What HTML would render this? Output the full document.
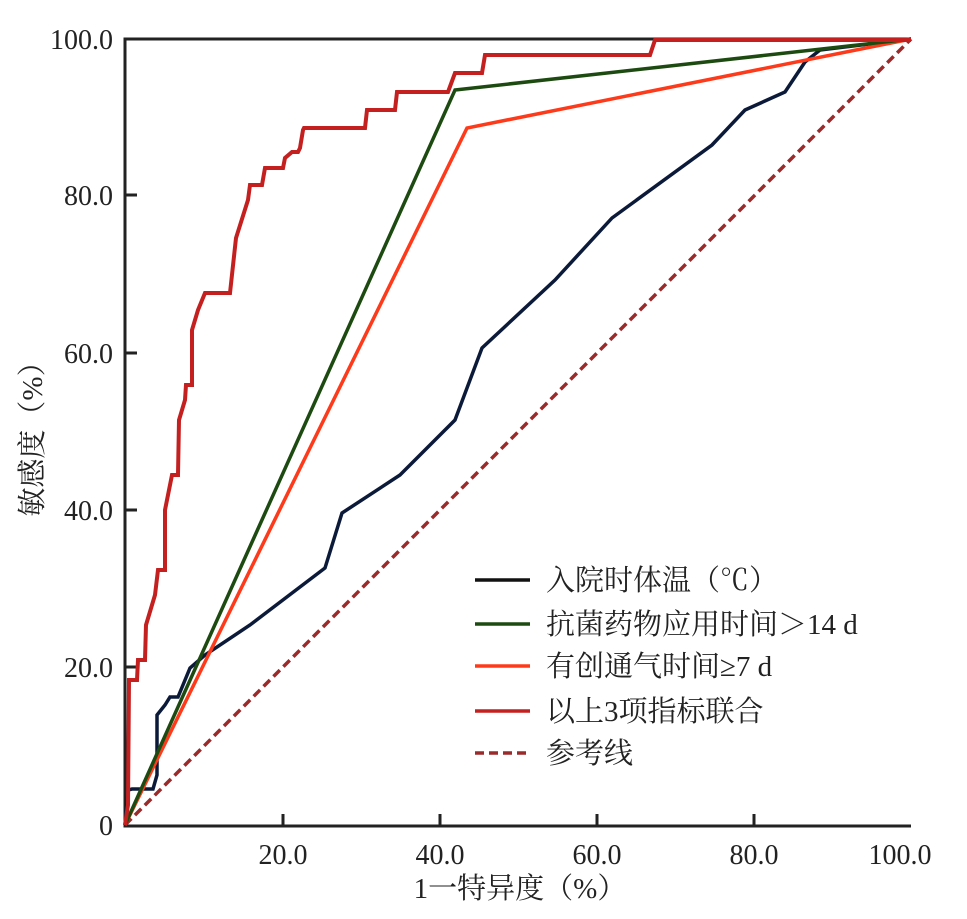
<!DOCTYPE html>
<html><head><meta charset="utf-8"><style>
body{margin:0;background:#fff}
text{font-family:"Liberation Serif","Noto Serif CJK SC",serif;fill:#222}
</style></head><body>
<svg width="967" height="914" viewBox="0 0 967 914" xmlns="http://www.w3.org/2000/svg">
<g stroke="#222" stroke-width="3" fill="none">
<polyline points="911,39 125,39 125,826 911,826"/>
<line x1="125" y1="195" x2="137" y2="195"/><line x1="125" y1="353" x2="137" y2="353"/>
<line x1="125" y1="510" x2="137" y2="510"/><line x1="125" y1="667" x2="137" y2="667"/>
<line x1="283" y1="826" x2="283" y2="814"/><line x1="440" y1="826" x2="440" y2="814"/>
<line x1="597" y1="826" x2="597" y2="814"/><line x1="754" y1="826" x2="754" y2="814"/>
</g>
<g font-size="28" text-anchor="end">
<text x="113" y="49">100.0</text><text x="113" y="205">80.0</text><text x="113" y="363">60.0</text>
<text x="113" y="520">40.0</text><text x="113" y="677">20.0</text><text x="113" y="835">0</text>
</g>
<g font-size="28" text-anchor="middle">
<text x="283" y="864">20.0</text><text x="440" y="864">40.0</text><text x="597" y="864">60.0</text>
<text x="754" y="864">80.0</text><text x="900" y="864">100.0</text>
<text x="520" y="898" font-size="29">1一特异度（%）</text>
<text transform="translate(42,432) rotate(-90)" font-size="29">敏感度（%）</text>
</g>
<line x1="125" y1="825" x2="911" y2="39" stroke="#9b2a2a" stroke-width="3.5" stroke-dasharray="9,5"/>
<polyline fill="none" stroke="#0c1a3a" stroke-width="3.5" points="125,825 128,790 132,789 153,789 157,775 157,715 165,705 170,697 178,697 190,668 205,655 250,625 325,568 342,513 400,475 455,420 482,348 555,280 612,218 712,145 745,110 785,92 805,62 820,50 911,39"/>
<polyline fill="none" stroke="#ff3a1a" stroke-width="3.5" points="125,825 467,128 911,39"/>
<polyline fill="none" stroke="#1c4a10" stroke-width="3.5" points="125,825 455,90 911,39"/>
<polyline fill="none" stroke="#c42020" stroke-width="4" points="125,825 128,805 129,680 137,680 138,660 145,660 146,625 155,595 158,570 165,570 165,510 172,475 178,475 179,420 185,400 186,385 192,385 192,330 198,310 205,293 230,293 236,238 248,200 250,185 262,185 265,168 283,168 285,158 292,152 298,152 300,148 303,130 304,128 365,128 367,110 395,110 397,92 448,92 455,73 482,73 485,55 650,55 655,40 911,40"/>
<g stroke-width="3.5">
<line x1="475" y1="580" x2="530" y2="580" stroke="#111"/>
<line x1="475" y1="624" x2="530" y2="624" stroke="#1c4a10"/>
<line x1="475" y1="666" x2="530" y2="666" stroke="#ff3a1a"/>
<line x1="475" y1="711" x2="530" y2="711" stroke="#c42020"/>
<line x1="475" y1="753" x2="530" y2="753" stroke="#9b2a2a" stroke-dasharray="9,5"/>
</g>
<g font-size="29" xml:space="preserve">
<text x="546" y="590">入院时体温（℃）</text>
<text x="546" y="634">抗菌药物应用时间＞14  d</text>
<text x="546" y="676">有创通气时间≥7  d</text>
<text x="546" y="721">以上3项指标联合</text>
<text x="546" y="763">参考线</text>
</g>
</svg>
</body></html>
